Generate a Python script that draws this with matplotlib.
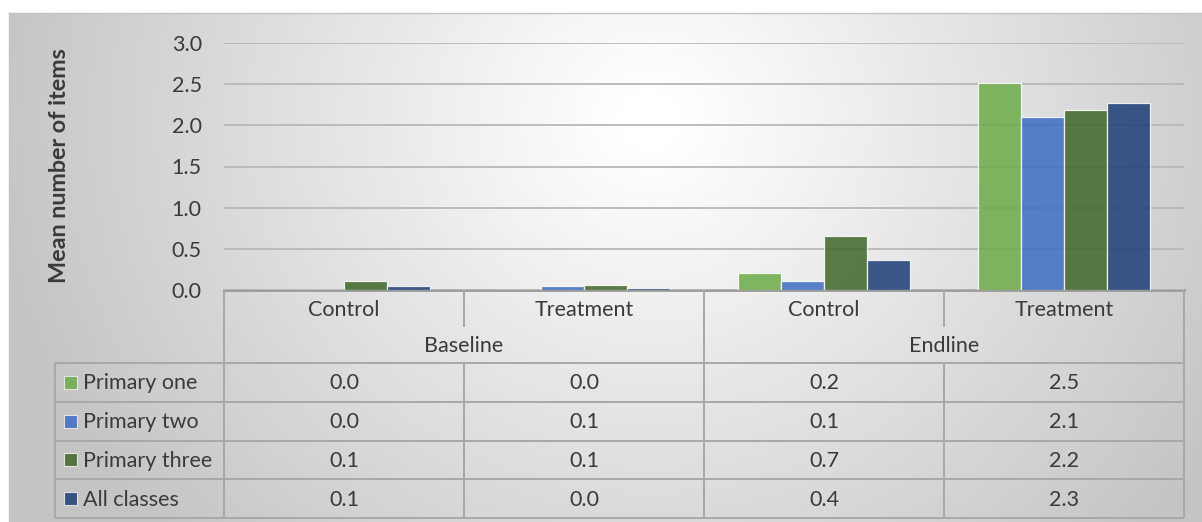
import numpy as np
import matplotlib
matplotlib.use("Agg")
import matplotlib.pyplot as plt
from matplotlib.patches import Rectangle

plt.rcParams['font.family'] = ['Lato', 'DejaVu Sans']

# ---- data -------------------------------------------------------------
phases = ["Baseline", "Endline"]
arms = ["Control", "Treatment", "Control", "Treatment"]
series_names = ["Primary one", "Primary two", "Primary three", "All classes"]
primary_one = [0.0, 0.0, 0.21, 2.52]
primary_two = [0.0, 0.052, 0.11, 2.10]
primary_three = [0.11, 0.06, 0.652, 2.19]
all_classes = [0.052, 0.03, 0.36, 2.27]
y_ticks = [0.0, 0.5, 1.0, 1.5, 2.0, 2.5, 3.0]
y_label = "Mean number of items"

series = [primary_one, primary_two, primary_three, all_classes]
colors = ["#6CAB48", "#3E6DC2", "#3E6629", "#1D3E77"]
text_col = "#3A3A3A"
line_col = "#A8A8A8"

W, H = 1202, 522
fig = plt.figure(figsize=(W / 100, H / 100), dpi=100)

# ---- full-figure overlay in pixel units (background + data table) -----
ov = fig.add_axes([0, 0, 1, 1], zorder=0)
ov.set_xlim(0, W)
ov.set_ylim(H, 0)
ov.axis("off")

yy, xx = np.mgrid[0:H, 0:W]
r = np.sqrt(((xx - 650) / 650.0) ** 2 + ((yy - 120) / 600.0) ** 2)
val = np.clip(258 - 60 * r, 196, 255) / 255.0
bg = np.dstack([val, val, val])
bg[:13, :, :] = 1.0
bg[:, :9, :] = 1.0
ov.imshow(bg, extent=(0, W, H, 0), interpolation="bilinear", zorder=0)
ov.plot([9, W], [13, 13], color="#C4C4C4", lw=1.0, zorder=1)
ov.plot([9, 9], [13, H], color="#C4C4C4", lw=1.0, zorder=1)

# table geometry
left, colw, ncol = 224, 240, 4
right = left + colw * ncol
top = 290
cat_bottom = 327
head_bottom = 363
row_h = 38.75
leg_left = 55
rows_y = [head_bottom + i * row_h for i in range(len(series) + 1)]
bottom = rows_y[-1]

lkw = dict(color=line_col, lw=1.4, zorder=2, solid_capstyle="butt")
# outer header borders
ov.plot([left, right], [top, top], color="#9A9A9A", lw=2.0, zorder=2)
ov.plot([left, left], [top, bottom], **lkw)
ov.plot([right, right], [top, bottom], **lkw)
# phase divider (full height) and arm dividers
ov.plot([left + 2 * colw] * 2, [top, bottom], **lkw)
for k in (1, 3):
    x = left + k * colw
    ov.plot([x, x], [top, cat_bottom], **lkw)
    ov.plot([x, x], [head_bottom, bottom], **lkw)
# row lines and legend column
for y in rows_y:
    ov.plot([leg_left, right], [y, y], **lkw)
ov.plot([leg_left, leg_left], [head_bottom, bottom], **lkw)

fs = 15.5
for j, name in enumerate(arms):
    ov.text(left + (j + 0.5) * colw, (top + cat_bottom) / 2 + 1, name,
            ha="center", va="center", fontsize=fs, color=text_col, zorder=3)
for p, name in enumerate(phases):
    ov.text(left + (2 * p + 1) * colw, (cat_bottom + head_bottom) / 2 + 1, name,
            ha="center", va="center", fontsize=fs, color=text_col, zorder=3)

for i, (name, vals, c) in enumerate(zip(series_names, series, colors)):
    yc = (rows_y[i] + rows_y[i + 1]) / 2
    ov.add_patch(Rectangle((64, yc - 6.5), 13, 13, facecolor=c, alpha=0.85,
                           edgecolor="#F0F0F0", lw=0.8, zorder=3))
    ov.text(83, yc + 1, name, ha="left", va="center", fontsize=fs,
            color=text_col, zorder=3)
    for j, v in enumerate(vals):
        ov.text(left + (j + 0.5) * colw, yc + 1, f"{v:.1f}", ha="center",
                va="center", fontsize=fs, color=text_col, zorder=3)

# ---- bar chart --------------------------------------------------------
ax = fig.add_axes([left / W, (H - top) / H, (right - left) / W, (top - 43) / H],
                  zorder=1)
ax.patch.set_alpha(0)
x = np.arange(len(arms))
bw = 0.18
for i, (vals, c) in enumerate(zip(series, colors)):
    ax.bar(x + (i - 1.5) * bw, vals, width=bw, color=c, alpha=0.85,
           edgecolor=(1, 1, 1, 0.55), linewidth=0.9, zorder=2)

ax.set_xlim(-0.5, len(arms) - 0.5)
ax.set_ylim(0, 3.0)
ax.set_yticks(y_ticks)
ax.set_yticklabels([f"{t:.1f}" for t in y_ticks])
ax.set_xticks([])
ax.tick_params(axis="y", length=0, pad=16, labelsize=fs, labelcolor=text_col)
ax.yaxis.grid(True, color="#B8B8B8", lw=1.3, zorder=1)
ax.set_axisbelow(True)
for s in ax.spines.values():
    s.set_visible(False)

fig.text(59 / W, 1 - 166 / H, y_label, rotation=90, ha="center", va="center",
         fontsize=16.8, fontweight="bold", color=text_col)

fig.savefig("out.png", dpi=100)
